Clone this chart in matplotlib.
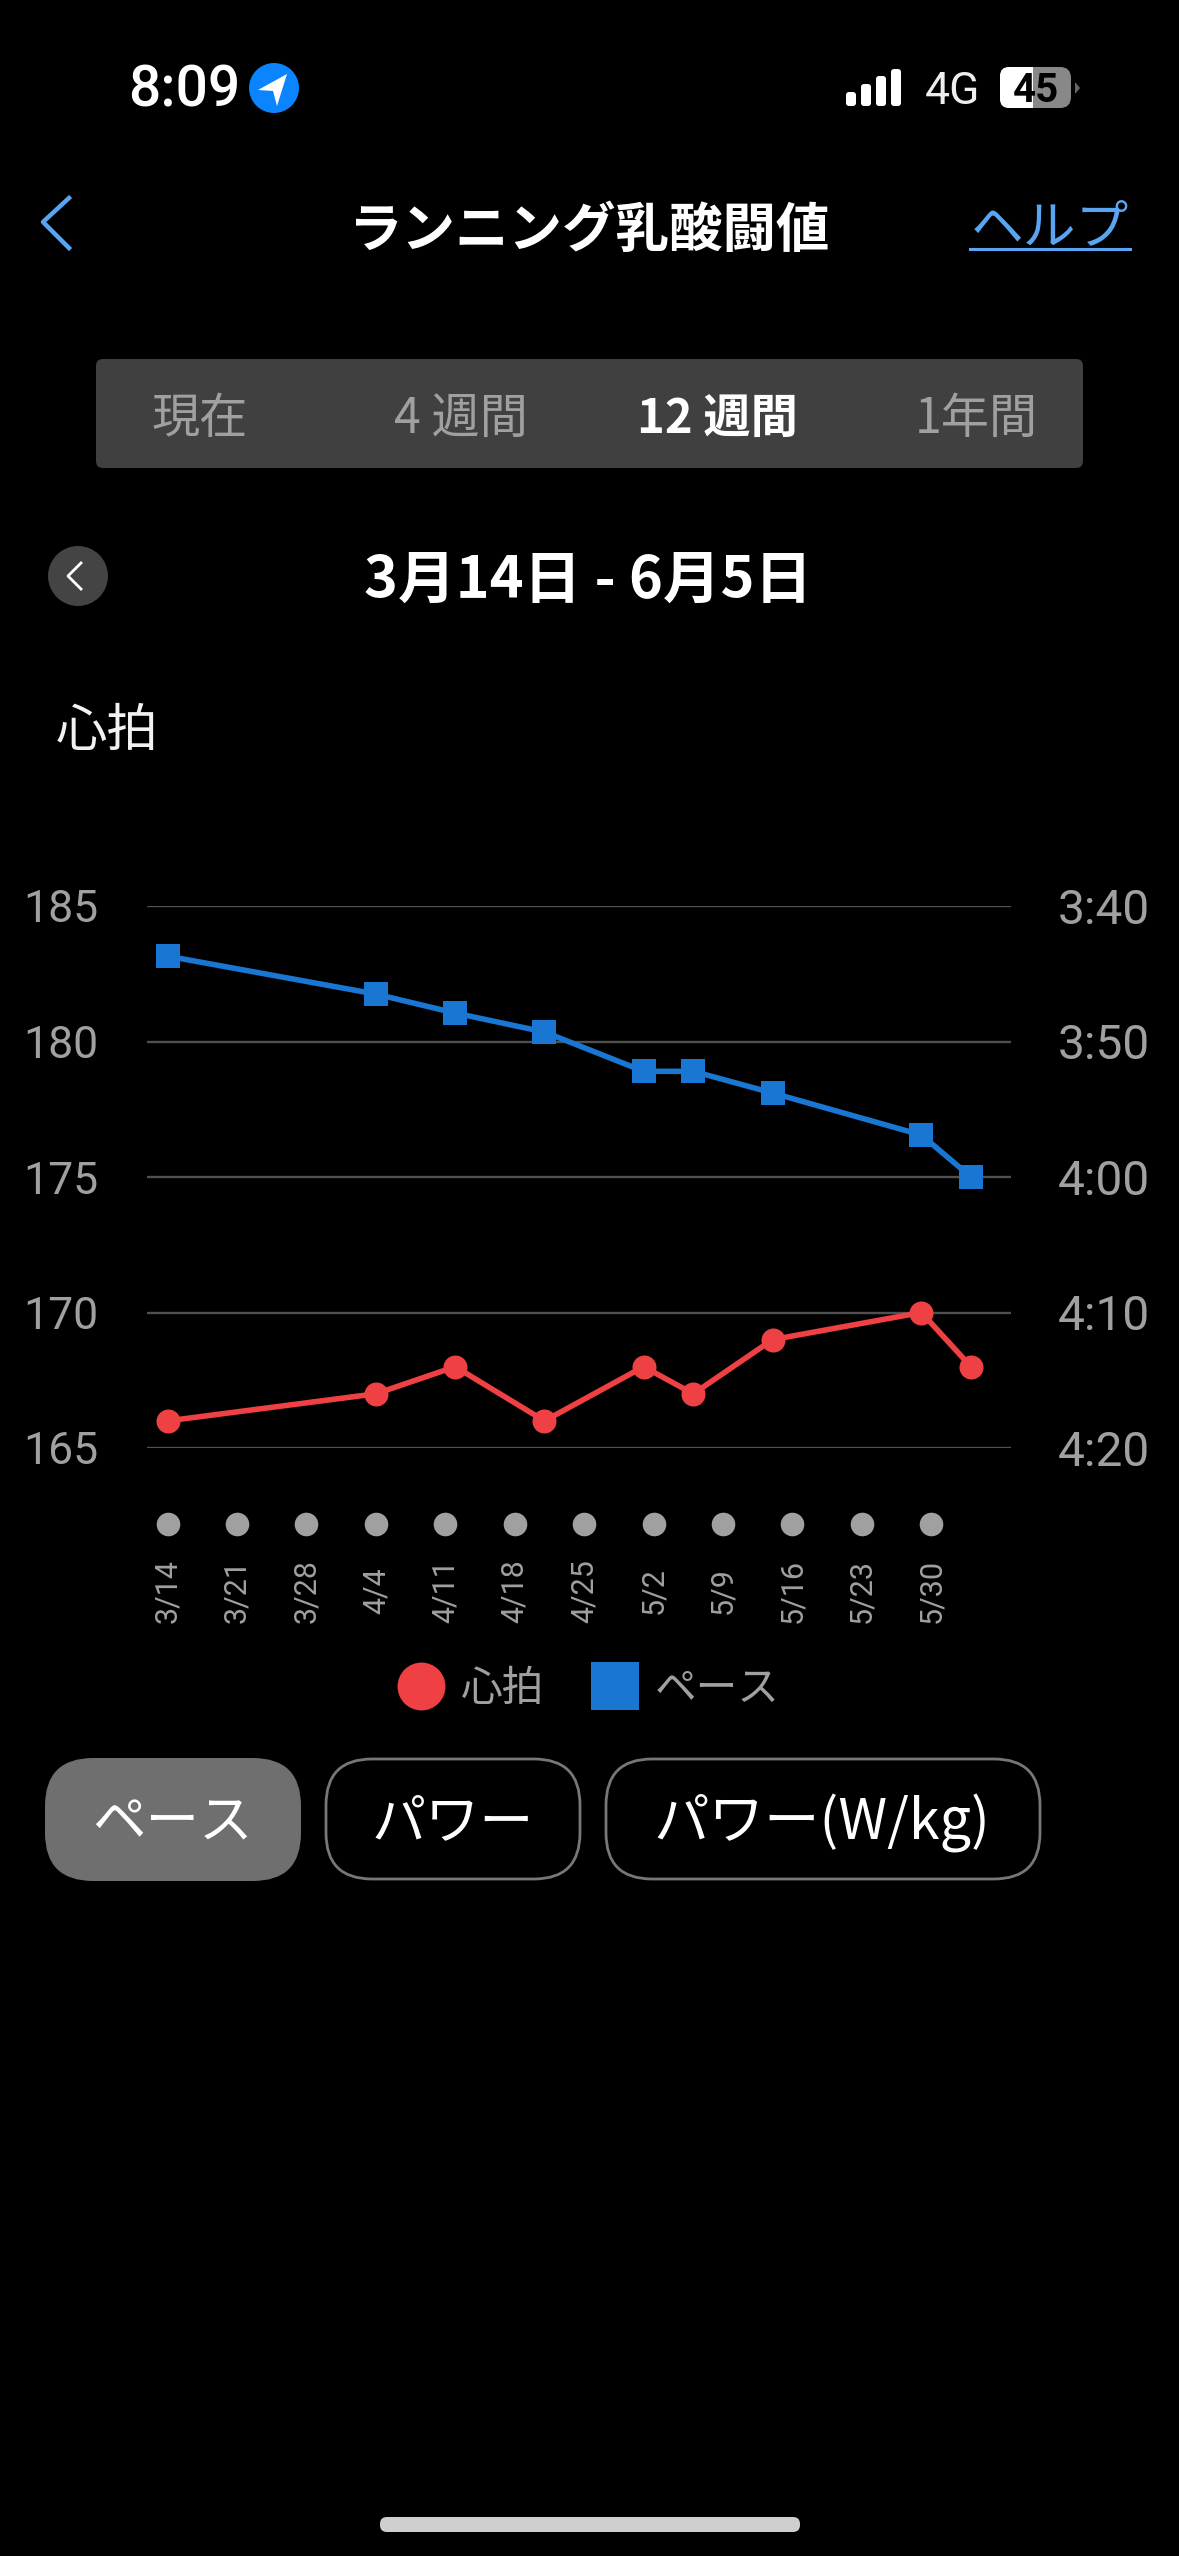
import matplotlib
matplotlib.use("Agg")
import matplotlib.pyplot as plt
from matplotlib.lines import Line2D
from matplotlib.patches import Circle, FancyBboxPatch, Polygon, Rectangle

plt.rcParams['font.family'] = ['Noto Sans CJK JP', 'DejaVu Sans']

# days counted from 3/14
week_days = [0, 7, 14, 21, 28, 35, 42, 49, 56, 63, 70, 77]
week_labels = ["3/14", "3/21", "3/28", "4/4", "4/11", "4/18", "4/25", "5/2", "5/9", "5/16", "5/23", "5/30"]

run_days = [0, 21, 29, 38, 48, 53, 61, 76, 81]
heart_rate = [166, 167, 168, 166, 168, 167, 169, 170, 168]
# pace in seconds per km
pace_sec = [223.7, 226.5, 227.9, 229.3, 232.2, 232.2, 233.8, 236.9, 240]

hr_ticks = [165, 170, 175, 180, 185]
pace_tick_sec = [260, 250, 240, 230, 220]
pace_ticks = ["4:20", "4:10", "4:00", "3:50", "3:40"]

title = "ランニング乳酸闘値"
tabs = ["現在", "4 週間", "12 週間", "1年間"]
date_range = "3月14日 - 6月5日"
series_names = ["心拍", "ペース"]
buttons = ["ペース", "パワー", "パワー(W/kg)"]

RED = "#ef4043"
BLUE = "#1976d2"
LINK = "#5aa5f2"
GREY_TEXT = "#a0a0a0"
W, H = 1179, 2556

fig = plt.figure(figsize=(W / 100, H / 100), dpi=100, facecolor="black")

# screen furniture, drawn in pixel coordinates
ui = fig.add_axes([0, 0, 1, 1], zorder=0)
ui.set_xlim(0, W)
ui.set_ylim(H, 0)
ui.axis("off")


def box(x0, y0, x1, y1, r, fc="none", ec="none", lw=0):
    ui.add_patch(FancyBboxPatch((x0, y0), x1 - x0, y1 - y0, boxstyle=f"round,pad=0,rounding_size={r}",
                                fc=fc, ec=ec, lw=lw))


def label(x, y, s, size, color="white", weight="normal", **kw):
    ui.text(x, y, s, fontsize=size, color=color, fontweight=weight, ha=kw.pop("ha", "center"), va="center", **kw)


# status bar
label(184, 91, "8:09", 41, weight="medium", family="Roboto")
ui.add_patch(Circle((274, 88), 25, fc="#0a84ff", ec="none"))
ui.add_patch(Polygon([(258, 90), (287, 74), (277, 106), (273, 91)], fc="white", ec="none"))
for bx, bh in zip([846, 861, 876, 891], [14, 22, 30, 37]):
    box(bx, 106 - bh, bx + 10, 106, 3, fc="white")
label(952, 92, "4G", 32, color="#eeeeee", family="Roboto")
box(1000, 67, 1071, 108, 11, fc="#888888")
ui.add_patch(Rectangle((1011, 67), 22, 41, fc="white", ec="none"))
box(1000, 67, 1020, 108, 9, fc="white")
label(1036, 91, "45", 29, color="black", weight="bold", family="Roboto")
ui.add_patch(Polygon([(1075, 82), (1080, 88), (1075, 94)], fc="#666666", ec="none"))

# header
ui.plot([69, 43, 69], [198, 222, 248], color=LINK, lw=3.2)
label(590, 232, title, 38.5, weight="bold")
label(1050, 228, "ヘルプ", 38, color=LINK)
ui.plot([970, 1130], [249, 249], color=LINK, lw=2.2)

# range tabs
box(96, 359, 1083, 468, 7, fc="#404040")
for tx, s, on in zip([200, 461, 717, 976], tabs, [False, False, True, False]):
    label(tx, 419, s, 34 if on else 34.7, color="white" if on else GREY_TEXT, weight="bold" if on else "normal")

# date row
ui.add_patch(Circle((78, 576), 30, fc="#444444", ec="none"))
ui.plot([81, 68, 81], [563, 576, 589], color="white", lw=2)
label(588, 581, date_range, 41.5, weight="bold")
label(107, 731, series_names[0], 37, color="#f2f2f2")

# buttons under the chart
box(45, 1758, 301, 1881, 48, fc="#6f6f6f")
box(326, 1759, 580, 1879, 46, ec="#777777", lw=2)
box(606, 1759, 1040, 1879, 46, ec="#777777", lw=2)
for tx, s, fs in zip([172, 453, 822], buttons, [38.5, 39, 40]):
    label(tx, 1823, s, fs)

# home indicator
box(380, 2517, 800, 2532, 7, fc="#cfcfcf")

# chart, left axis heart rate, right axis pace
ax = fig.add_axes([147 / W, 1 - 1448 / H, (1011 - 147) / W, (1448 - 906) / H], zorder=1)
ax.patch.set_visible(False)
ax.set_xlim(-2.07, 85.03)
ax.set_ylim(165, 185)
for s in ax.spines.values():
    s.set_visible(False)
ax.set_yticks(hr_ticks)
ax.grid(axis="y", color="#505050", lw=1.7)
ax.set_axisbelow(True)
ax.tick_params(axis="y", length=0, pad=35, labelsize=32, labelcolor=GREY_TEXT, labelfontfamily="Roboto")
ax.set_xticks(week_days, week_labels)
ax.tick_params(axis="x", length=0, pad=103, labelsize=22, labelcolor=GREY_TEXT, labelrotation=90,
               labelfontfamily="Roboto")
for t in ax.get_xticklabels():
    t.set_verticalalignment("center")

# week dots sit below the plot area
ax.plot(week_days, [-0.14] * len(week_days), ls="none", marker="o", ms=17, mew=0, color=GREY_TEXT,
        transform=ax.get_xaxis_transform(), clip_on=False)

ax.plot(run_days, heart_rate, color=RED, lw=4, marker="o", ms=17.3, mew=0, clip_on=False, zorder=3)

ax2 = ax.twinx()
ax2.patch.set_visible(False)
ax2.set_ylim(260, 220)
for s in ax2.spines.values():
    s.set_visible(False)
ax2.set_yticks(pace_tick_sec, pace_ticks)
ax2.tick_params(axis="y", length=0, pad=34, labelsize=34.5, labelcolor=GREY_TEXT, labelfontfamily="Roboto")
ax2.plot(run_days, pace_sec, color=BLUE, lw=4, marker="s", ms=17.3, mew=0, clip_on=False, zorder=3)

handles = [Line2D([], [], ls="none", marker="o", ms=34.5, mew=0, color=RED),
           Line2D([], [], ls="none", marker="s", ms=34.5, mew=0, color=BLUE)]
ax2.legend(handles, series_names, loc="center", bbox_to_anchor=(590 / W, 1 - 1689 / H),
           bbox_transform=fig.transFigure, ncol=2, frameon=False, fontsize=30, labelcolor=GREY_TEXT,
           handlelength=1, handletextpad=0.45, columnspacing=1.2, borderpad=0)

fig.savefig("out.png", dpi=100, facecolor="black")
